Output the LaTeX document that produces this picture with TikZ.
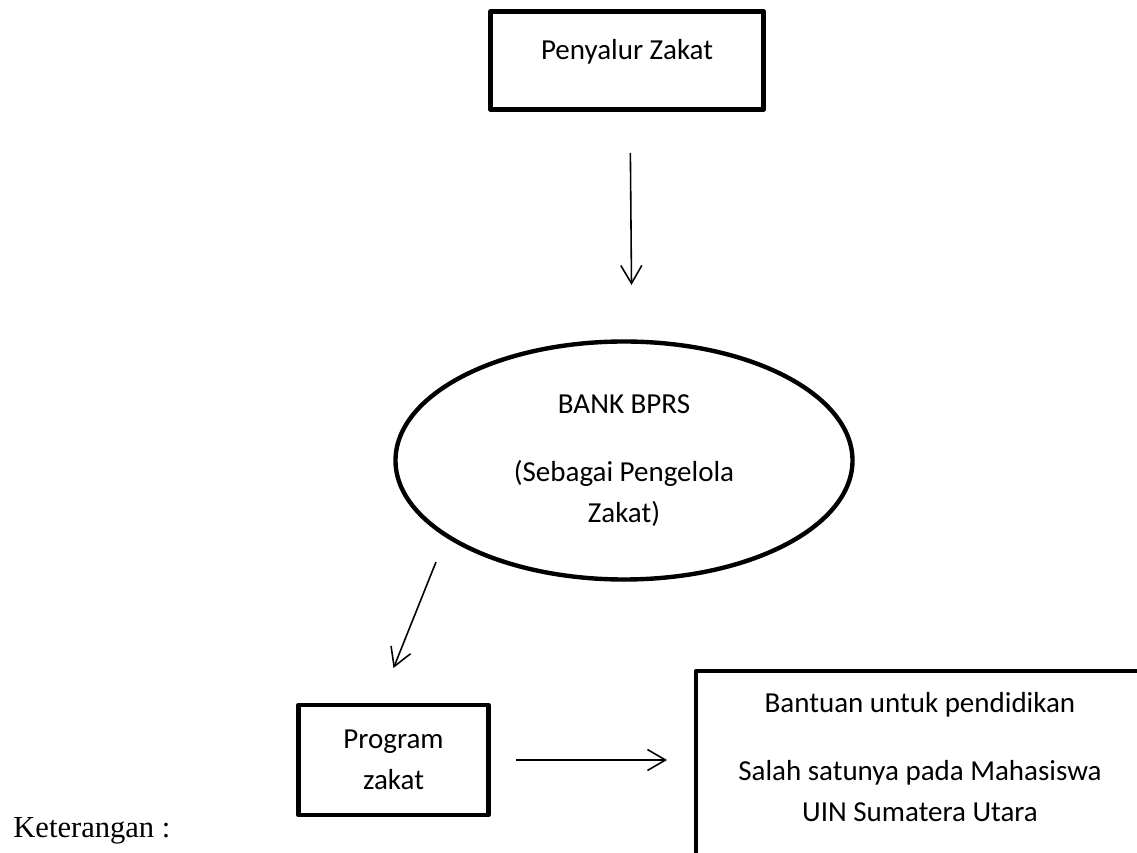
\documentclass[tikz,border=0pt]{standalone}
\usepackage{fontspec}
\setmainfont{Carlito}
\newfontfamily\ketfont{Liberation Serif}
\usetikzlibrary{shapes.geometric,arrows.meta}
\begin{document}
\begin{tikzpicture}[x=0.2mm, y=-0.2mm, font=\fontsize{16.5}{23.6}\selectfont,
  box/.style={draw, line width=2.7pt, line join=round, inner sep=0pt, outer sep=0pt},
  arr/.style={-{Straight Barb[length=3.6mm, width=4.2mm]}, line width=0.9pt}]
\useasboundingbox (0,0) rectangle (1137,853);
\clip (0,0) rectangle (1137,853);
\node[box, minimum width=54.6mm, minimum height=19.6mm, text height=12pt, text depth=13pt] (penyalur) at (627,60.5) {Penyalur Zakat};
\node[box, ellipse, line width=2.5pt, minimum width=91.4mm, minimum height=47.6mm, align=center] (bank) at (624,460.5) {BANK BPRS\\[15pt](Sebagai Pengelola\\Zakat)};
\node[box, minimum width=38mm, minimum height=22mm, align=center] (program) at (393.5,760) {Program\\zakat};
\node[box, anchor=north west, minimum width=90mm, minimum height=60mm] (bantuan) at (696,671) {};
\node[anchor=north, align=center, inner sep=0pt] (bantuantxt) at (920,692) {Bantuan untuk pendidikan\\[15pt]Salah satunya pada Mahasiswa\\UIN Sumatera Utara};
\node[anchor=base west, inner sep=0pt, font=\ketfont\fontsize{17.4}{21}\selectfont] (keterangan) at (13,837) {Keterangan :};
\coordinate (bankout) at (436,562);
\draw[arr, shorten <=8.7mm, shorten >=11.3mm] ([xshift=0.6mm]penyalur.south) -- ([xshift=1.6mm]bank.north);
\draw[arr] (bankout) -- ([yshift=7.4mm]program.north);
\draw[arr, shorten <=5.5mm, shorten >=5.8mm] (program.east) -- (program.east -| bantuan.west);
\end{tikzpicture}
\end{document}
